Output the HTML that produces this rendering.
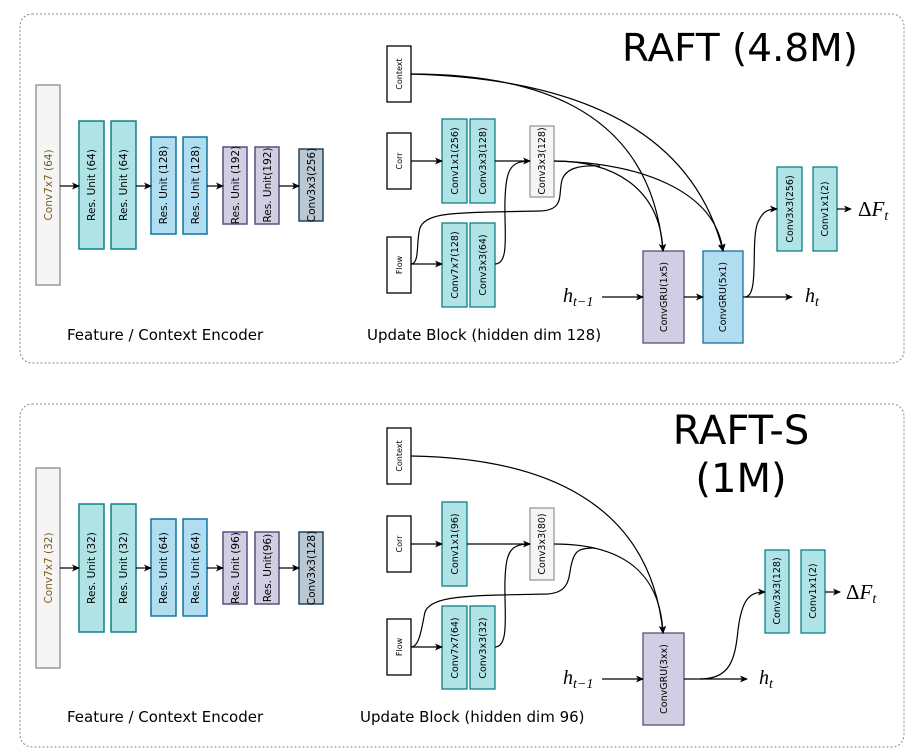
<!DOCTYPE html>
<html><head><meta charset="utf-8"><style>
html,body{margin:0;padding:0;background:#fff;}
svg{display:block;}
.t{font-family:"DejaVu Sans","Liberation Sans",sans-serif;fill:#000;}
.m{font-family:"Liberation Serif",serif;font-style:italic;fill:#000;}
</style></head><body>
<svg width="913" height="752" viewBox="0 0 913 752" xmlns="http://www.w3.org/2000/svg">
<defs>
<marker id="a" markerWidth="8" markerHeight="8" refX="7" refY="4" orient="auto" markerUnits="userSpaceOnUse">
<path d="M0,0.5 L8,4 L0,7.5 L2,4 Z" fill="#000"/></marker>
</defs>
<g fill="none" stroke="#888" stroke-dasharray="2,2" stroke-width="1">
<rect x="20" y="14" width="884" height="349" rx="12"/>
<rect x="20" y="404" width="884" height="343" rx="12"/>
</g>

<!-- ===== TOP PANEL ===== -->
<text class="t" x="622" y="61" font-size="38" textLength="236" lengthAdjust="spacingAndGlyphs">RAFT (4.8M)</text>
<g stroke-width="1.5">
<rect x="36" y="85" width="24" height="200" fill="#f5f5f5" stroke="#999"/>
<rect x="79" y="121" width="25" height="128" fill="#b0e3e6" stroke="#0e8088"/>
<rect x="111" y="121" width="25" height="128" fill="#b0e3e6" stroke="#0e8088"/>
<rect x="151" y="137" width="25" height="97" fill="#b1ddf0" stroke="#10739e"/>
<rect x="183" y="137" width="24" height="97" fill="#b1ddf0" stroke="#10739e"/>
<rect x="223" y="147" width="24" height="77" fill="#d0cee2" stroke="#56517e"/>
<rect x="255" y="147" width="24" height="77" fill="#d0cee2" stroke="#56517e"/>
<rect x="299" y="149" width="24" height="72" fill="#bac8d3" stroke="#23445d"/>
</g>
<g stroke="#000" stroke-width="1.2" fill="none">
<line x1="60" y1="186" x2="79" y2="186" marker-end="url(#a)"/>
<line x1="136" y1="186" x2="151" y2="186" marker-end="url(#a)"/>
<line x1="207" y1="186" x2="223" y2="186" marker-end="url(#a)"/>
<line x1="279" y1="186" x2="299" y2="186" marker-end="url(#a)"/>
</g>
<g class="t" font-size="10.5" text-anchor="middle">
<text transform="translate(52,185) rotate(-90)" fill="#7a5a1a">Conv7x7 (64)</text>
<text transform="translate(95,185) rotate(-90)">Res. Unit (64)</text>
<text transform="translate(127,185) rotate(-90)">Res. Unit (64)</text>
<text transform="translate(167,185) rotate(-90)">Res. Unit (128)</text>
<text transform="translate(199,185) rotate(-90)">Res. Unit (128)</text>
<text transform="translate(239,185) rotate(-90)">Res. Unit (192)</text>
<text transform="translate(271,185) rotate(-90)">Res. Unit(192)</text>
<text transform="translate(315,185) rotate(-90)">Conv3x3(256)</text>
</g>
<text class="t" x="67" y="340" font-size="15">Feature / Context Encoder</text>
<text class="t" x="367" y="340" font-size="15">Update Block (hidden dim 128)</text>

<g stroke-width="1.3">
<rect x="387" y="46" width="24" height="56" fill="#fff" stroke="#000"/>
<rect x="387" y="133" width="24" height="56" fill="#fff" stroke="#000"/>
<rect x="387" y="237" width="24" height="56" fill="#fff" stroke="#000"/>
<rect x="442" y="119" width="25" height="84" fill="#b0e3e6" stroke="#0e8088"/>
<rect x="470" y="119" width="25" height="84" fill="#b0e3e6" stroke="#0e8088"/>
<rect x="442" y="223" width="25" height="84" fill="#b0e3e6" stroke="#0e8088"/>
<rect x="470" y="223" width="25" height="84" fill="#b0e3e6" stroke="#0e8088"/>
<rect x="530" y="126" width="24" height="71" fill="#f5f5f5" stroke="#999"/>
<rect x="643" y="251" width="41" height="92" fill="#d0cee2" stroke="#56517e"/>
<rect x="703" y="251" width="40" height="92" fill="#b1ddf0" stroke="#10739e"/>
<rect x="777" y="167" width="25" height="84" fill="#b0e3e6" stroke="#0e8088"/>
<rect x="813" y="167" width="24" height="84" fill="#b0e3e6" stroke="#0e8088"/>
</g>
<g class="t" font-size="8" text-anchor="middle">
<text transform="translate(402,74) rotate(-90)">Context</text>
<text transform="translate(402,161) rotate(-90)">Corr</text>
<text transform="translate(402,265) rotate(-90)">Flow</text>
</g>
<g class="t" font-size="9.5" text-anchor="middle">
<text transform="translate(458,161) rotate(-90)">Conv1x1(256)</text>
<text transform="translate(486,161) rotate(-90)">Conv3x3(128)</text>
<text transform="translate(458,265) rotate(-90)">Conv7x7(128)</text>
<text transform="translate(486,265) rotate(-90)">Conv3x3(64)</text>
<text transform="translate(545,161) rotate(-90)">Conv3x3(128)</text>
<text transform="translate(667,297) rotate(-90)">ConvGRU(1x5)</text>
<text transform="translate(726,297) rotate(-90)">ConvGRU(5x1)</text>
<text transform="translate(793,209) rotate(-90)">Conv3x3(256)</text>
<text transform="translate(828,209) rotate(-90)">Conv1x1(2)</text>
</g>
<g stroke="#000" stroke-width="1.2" fill="none">
<line x1="411" y1="161" x2="442" y2="161" marker-end="url(#a)"/>
<line x1="495" y1="161" x2="530" y2="161" marker-end="url(#a)"/>
<line x1="411" y1="264" x2="442" y2="264" marker-end="url(#a)"/>
<path d="M495,264 C510,264 504,230 505,200 C506,170 510,161 530,161"/>
<path d="M411,264 C420,264 416,240 420,228 C425,214 450,213 490,212 L540,211 C565,210 558,195 562,180 C566,168 580,165 600,166"/>
<path d="M411,74 C520,74 650,100 663,251" marker-end="url(#a)"/>
<path d="M411,74 C560,78 690,120 723,251" marker-end="url(#a)"/>
<path d="M554,161 C610,161 660,185 663,251" marker-end="url(#a)"/>
<path d="M554,161 C640,163 715,190 723,251" marker-end="url(#a)"/>
<line x1="602" y1="297" x2="643" y2="297" marker-end="url(#a)"/>
<line x1="684" y1="297" x2="703" y2="297" marker-end="url(#a)"/>
<line x1="743" y1="297" x2="792" y2="297" marker-end="url(#a)"/>
<path d="M745,297 C760,297 750,240 758,222 C763,211 768,209 777,209" marker-end="url(#a)"/>
<line x1="837" y1="209" x2="851" y2="209" marker-end="url(#a)"/>
</g>
<text class="m" x="563" y="302" font-size="20">h<tspan font-size="14" dy="4">t−1</tspan></text>
<text class="m" x="805" y="302" font-size="20">h<tspan font-size="14" dy="4">t</tspan></text>
<text class="m" x="858" y="216" font-size="21"><tspan font-style="normal">Δ</tspan>F<tspan font-size="14" dy="4">t</tspan></text>

<!-- ===== BOTTOM PANEL ===== -->
<text class="t" x="741" y="444" font-size="40" text-anchor="middle">RAFT-S</text>
<text class="t" x="741" y="492" font-size="40" text-anchor="middle">(1M)</text>
<g stroke-width="1.5">
<rect x="36" y="468" width="24" height="200" fill="#f5f5f5" stroke="#999"/>
<rect x="79" y="504" width="25" height="128" fill="#b0e3e6" stroke="#0e8088"/>
<rect x="111" y="504" width="25" height="128" fill="#b0e3e6" stroke="#0e8088"/>
<rect x="151" y="519" width="25" height="97" fill="#b1ddf0" stroke="#10739e"/>
<rect x="183" y="519" width="24" height="97" fill="#b1ddf0" stroke="#10739e"/>
<rect x="223" y="532" width="24" height="72" fill="#d0cee2" stroke="#56517e"/>
<rect x="255" y="532" width="24" height="72" fill="#d0cee2" stroke="#56517e"/>
<rect x="299" y="532" width="24" height="72" fill="#bac8d3" stroke="#23445d"/>
</g>
<g stroke="#000" stroke-width="1.2" fill="none">
<line x1="60" y1="568" x2="79" y2="568" marker-end="url(#a)"/>
<line x1="136" y1="568" x2="151" y2="568" marker-end="url(#a)"/>
<line x1="207" y1="568" x2="223" y2="568" marker-end="url(#a)"/>
<line x1="279" y1="568" x2="299" y2="568" marker-end="url(#a)"/>
</g>
<g class="t" font-size="10.5" text-anchor="middle">
<text transform="translate(52,568) rotate(-90)" fill="#7a5a1a">Conv7x7 (32)</text>
<text transform="translate(95,568) rotate(-90)">Res. Unit (32)</text>
<text transform="translate(127,568) rotate(-90)">Res. Unit (32)</text>
<text transform="translate(167,568) rotate(-90)">Res. Unit (64)</text>
<text transform="translate(199,568) rotate(-90)">Res. Unit (64)</text>
<text transform="translate(239,568) rotate(-90)">Res. Unit (96)</text>
<text transform="translate(271,568) rotate(-90)">Res. Unit(96)</text>
<text transform="translate(315,568) rotate(-90)">Conv3x3(128)</text>
</g>
<text class="t" x="67" y="722" font-size="15">Feature / Context Encoder</text>
<text class="t" x="360" y="722" font-size="15">Update Block (hidden dim 96)</text>

<g stroke-width="1.3">
<rect x="387" y="428" width="24" height="56" fill="#fff" stroke="#000"/>
<rect x="387" y="516" width="24" height="56" fill="#fff" stroke="#000"/>
<rect x="387" y="619" width="24" height="56" fill="#fff" stroke="#000"/>
<rect x="442" y="502" width="25" height="84" fill="#b0e3e6" stroke="#0e8088"/>
<rect x="442" y="606" width="25" height="83" fill="#b0e3e6" stroke="#0e8088"/>
<rect x="470" y="606" width="25" height="83" fill="#b0e3e6" stroke="#0e8088"/>
<rect x="530" y="508" width="24" height="72" fill="#f5f5f5" stroke="#999"/>
<rect x="643" y="633" width="41" height="92" fill="#d0cee2" stroke="#56517e"/>
<rect x="765" y="550" width="24" height="83" fill="#b0e3e6" stroke="#0e8088"/>
<rect x="801" y="550" width="24" height="83" fill="#b0e3e6" stroke="#0e8088"/>
</g>
<g class="t" font-size="8" text-anchor="middle">
<text transform="translate(402,456) rotate(-90)">Context</text>
<text transform="translate(402,544) rotate(-90)">Corr</text>
<text transform="translate(402,647) rotate(-90)">Flow</text>
</g>
<g class="t" font-size="9.5" text-anchor="middle">
<text transform="translate(458,544) rotate(-90)">Conv1x1(96)</text>
<text transform="translate(458,648) rotate(-90)">Conv7x7(64)</text>
<text transform="translate(486,648) rotate(-90)">Conv3x3(32)</text>
<text transform="translate(545,544) rotate(-90)">Conv3x3(80)</text>
<text transform="translate(667,679) rotate(-90)">ConvGRU(3xx)</text>
<text transform="translate(780,591) rotate(-90)">Conv3x3(128)</text>
<text transform="translate(816,591) rotate(-90)">Conv1x1(2)</text>
</g>
<g stroke="#000" stroke-width="1.2" fill="none">
<line x1="411" y1="544" x2="442" y2="544" marker-end="url(#a)"/>
<line x1="467" y1="544" x2="530" y2="544" marker-end="url(#a)"/>
<line x1="411" y1="647" x2="442" y2="647" marker-end="url(#a)"/>
<path d="M495,647 C510,647 504,610 505,580 C506,552 510,544 530,544"/>
<path d="M411,647 C420,647 422,625 425,612 C430,598 460,596 500,595 L548,594 C572,592 568,575 572,562 C575,550 580,548 595,548"/>
<path d="M411,456 C540,458 650,500 663,633" marker-end="url(#a)"/>
<path d="M554,544 C620,544 660,570 663,633" marker-end="url(#a)"/>
<line x1="602" y1="679" x2="643" y2="679" marker-end="url(#a)"/>
<line x1="684" y1="679" x2="747" y2="679" marker-end="url(#a)"/>
<path d="M700,679 C730,679 735,660 738,630 C742,598 750,592 765,592" marker-end="url(#a)"/>
<line x1="825" y1="592" x2="840" y2="592" marker-end="url(#a)"/>
</g>
<text class="m" x="563" y="684" font-size="20">h<tspan font-size="14" dy="4">t−1</tspan></text>
<text class="m" x="759" y="684" font-size="20">h<tspan font-size="14" dy="4">t</tspan></text>
<text class="m" x="846" y="599" font-size="21"><tspan font-style="normal">Δ</tspan>F<tspan font-size="14" dy="4">t</tspan></text>
</svg>
</body></html>
